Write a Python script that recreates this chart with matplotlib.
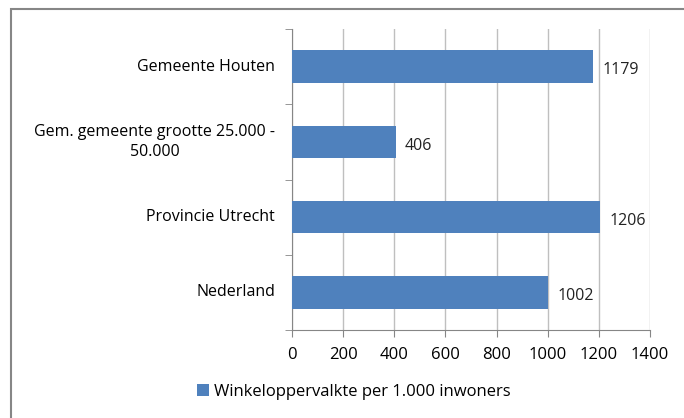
import numpy as np
import matplotlib.pyplot as plt
from matplotlib.patches import Rectangle

# Data
categorieen = ['Nederland', 'Provincie Utrecht', 'Gem. gemeente grootte 25.000 -\n50.000', 'Gemeente Houten']
waarden = [1002, 1206, 406, 1179]
x_ticks = [0, 200, 400, 600, 800, 1000, 1200, 1400]
legenda = 'Winkeloppervalkte per 1.000 inwoners'

plt.rcParams['font.family'] = ['Open Sans', 'DejaVu Sans']

fig = plt.figure(figsize=(6.84, 4.18), dpi=100)
ax = fig.add_axes([292 / 684, 1 - 330 / 418, (650 - 292) / 684, (330 - 29) / 418])

# chart border (right and bottom edges fall outside the picture)
fig.patches.append(Rectangle((11 / 684, -0.1), 1.2, 1.1 - 9 / 418, transform=fig.transFigure,
                             fill=False, edgecolor='#868686', linewidth=1.5))

y = np.arange(len(categorieen))
bars = ax.barh(y, waarden, height=0.43, color='#4f81bd', label=legenda, zorder=3)

for yi, w in zip(y, waarden):
    ax.text(w + 35, yi - 0.05, str(w), va='center', ha='left', fontsize=11.5, color='#222222')

ax.set_xlim(0, 1400)
ax.set_ylim(-0.5, len(categorieen) - 0.5)
ax.set_xticks(x_ticks)
ax.set_xticklabels([str(t) for t in x_ticks], fontsize=12)

# category labels as text so that the two-line label can be centred
ax.set_yticks(y)
ax.set_yticklabels([])
for yi, naam in zip(y, categorieen):
    ax.text(-0.047, yi, naam, transform=ax.get_yaxis_transform(), ha='right', va='center',
            multialignment='center', fontsize=11.5, linespacing=1.35)

ax.set_yticks(np.arange(-0.5, len(categorieen)), minor=True)
ax.tick_params(axis='y', which='major', length=0)
ax.tick_params(axis='y', which='minor', length=5, color='#868686')
ax.tick_params(axis='x', length=5, color='#868686', pad=7)
ax.grid(axis='x', color='#bfbfbf', linewidth=1, zorder=0)

for s in ['top', 'right']:
    ax.spines[s].set_visible(False)
for s in ['left', 'bottom']:
    ax.spines[s].set_color('#868686')

fig.legend(handles=[bars], labels=[legenda], loc='center left', bbox_to_anchor=(182 / 684, 1 - 392 / 418),
           frameon=False, fontsize=12, handlelength=0.7, handleheight=0.7, handletextpad=0.3)

fig.savefig('out.png', dpi=100)
